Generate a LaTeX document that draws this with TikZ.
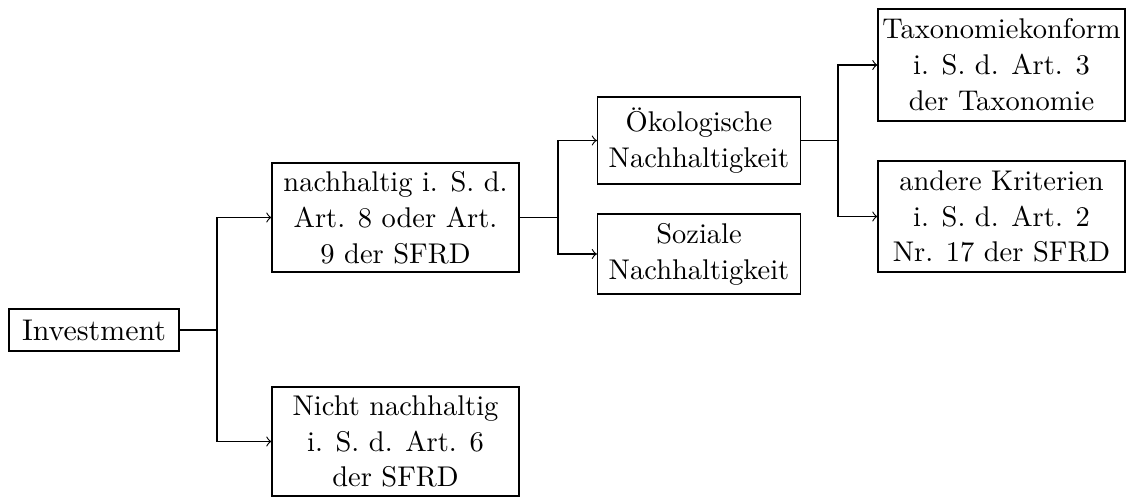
\documentclass[tikz,border=0pt]{standalone}
\usetikzlibrary{calc}
\begin{document}
\begin{tikzpicture}[
  x=0.35088pt, y=-0.35088pt,
  every node/.style={font=\fontsize{10pt}{12.6pt}\selectfont},
  box/.style={draw, align=center, inner sep=0pt, line width=0.4pt},
  link/.style={->, line width=0.4pt},
]
\useasboundingbox (0,0) rectangle (1128,497);

% Boxes
\node[box, minimum width=59.65pt, minimum height=14.74pt,
      font=\fontsize{10.5pt}{12.6pt}\selectfont] (inv) at (94,330) {Investment};
\node[box, minimum width=86.67pt, minimum height=38.25pt] (nach) at (395.5,217.5)
  {nachhaltig i. S. d.\\Art. 8 oder Art.\\9 der SFRD};
\node[box, minimum width=86.67pt, minimum height=38.25pt] (nicht) at (395.5,441.5)
  {Nicht nachhaltig\\i. S. d. Art. 6\\der SFRD};
\node[box, minimum width=71.23pt, minimum height=30.53pt] (oeko) at (699,140.5)
  {Ökologische\\Nachhaltigkeit};
\node[box, minimum width=71.23pt, minimum height=28.07pt] (soz) at (699,254)
  {Soziale\\Nachhaltigkeit};
\node[box, minimum width=86.67pt, minimum height=39.30pt] (tax) at (1001.5,65)
  {Taxonomiekonform\\i. S. d. Art. 3\\der Taxonomie};
\node[box, minimum width=86.67pt, minimum height=38.95pt] (andere) at (1001.5,216.5)
  {andere Kriterien\\i. S. d. Art. 2\\Nr. 17 der SFRD};

% Branch points
\coordinate (j1) at (217,330);
\coordinate (j2) at (558,217.5);
\coordinate (j3) at (838,140.5);

% Connectors
\draw (inv.east) -- (j1);
\draw[link] (j1) |- (nach.west);
\draw[link] (j1) |- (nicht.west);
\draw (nach.east) -- (j2);
\draw[link] (j2) |- (oeko.west);
\draw[link] (j2) |- (soz.west);
\draw (oeko.east) -- (j3);
\draw[link] (j3) |- (tax.west);
\draw[link] (j3) |- (andere.west);
\end{tikzpicture}
\end{document}
